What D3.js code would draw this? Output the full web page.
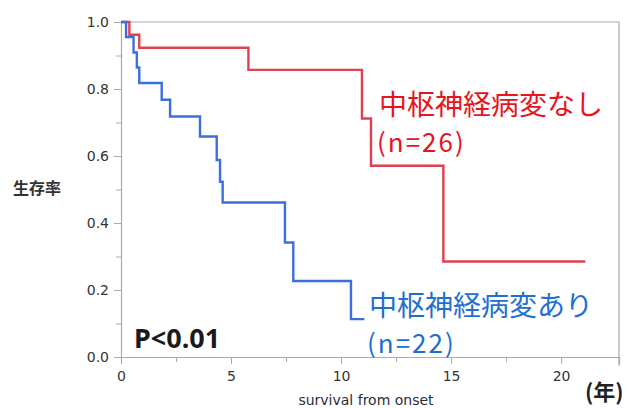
<!DOCTYPE html>
<html>
<head>
<meta charset="utf-8">
<script src="https://cdn.jsdelivr.net/npm/d3@7"></script>
<style>
  body { margin: 0; background: #fff; }
  svg { display: block; }
</style>
</head>
<body>
<div id="chart"></div>
<script>
// Kaplan-Meier steps: [time (years), survival]
const redSteps = [
    [0, 1.0], [0.38, 0.962], [0.83, 0.923], [5.79, 0.857],
    [10.95, 0.712], [11.36, 0.571], [14.65, 0.285], [21.1, 0.285]
];
const blueSteps = [
    [0, 1.0], [0.23, 0.955], [0.57, 0.909], [0.72, 0.864], [0.83, 0.818],
    [1.85, 0.768], [2.23, 0.718], [3.59, 0.658], [4.35, 0.588],
    [4.5, 0.523], [4.62, 0.461], [7.45, 0.342], [7.83, 0.227],
    [10.45, 0.113], [11.06, 0.113]
];
const xTicks = [0, 5, 10, 15, 20];
const yTicks = [0, 0.2, 0.4, 0.6, 0.8, 1.0];
const redLabel = ["中枢神経病変なし", "(n=26)"];
const blueLabel = ["中枢神経病変あり", "(n=22)"];

const width = 643, height = 408;
const plotLeft = 121, plotRight = 619, plotTop = 22, plotBottom = 357;

let svg = d3.select("#chart").append("svg")
    .attr("width", width).attr("height", height);

let x = d3.scaleLinear().domain([0, 22.63]).range([plotLeft, plotRight]);
let y = d3.scaleLinear().domain([0, 1]).range([plotBottom, plotTop]);

// frame (top and right)
svg.append("path")
    .attr("d", `M${plotLeft},${plotTop}H${plotRight}V${plotBottom + 9}`)
    .attr("fill", "none").attr("stroke", "#aaa").attr("stroke-width", 1.2);

// Y axis with minor ticks
svg.append("g").attr("transform", `translate(${plotLeft},0)`)
    .call(d3.axisLeft(y).tickValues(yTicks).tickFormat(d3.format(".1f")).tickSize(7).tickPadding(5));
svg.append("g").attr("transform", `translate(${plotLeft},0)`)
    .call(d3.axisLeft(y).tickValues(d3.range(0.1, 1, 0.2)).tickFormat("").tickSize(5))
    .select(".domain").remove();

// X axis with minor ticks
svg.append("g").attr("transform", `translate(0,${plotBottom})`)
    .call(d3.axisBottom(x).tickValues(xTicks).tickSize(7).tickPadding(7));
svg.append("g").attr("transform", `translate(0,${plotBottom})`)
    .call(d3.axisBottom(x).tickValues([2.5, 7.5, 12.5, 17.5]).tickFormat("").tickSize(5))
    .select(".domain").remove();

svg.selectAll(".domain").attr("stroke", "#aaa").attr("stroke-width", 1.2);
svg.selectAll(".tick line").attr("stroke", "#aaa");
svg.selectAll(".tick text")
    .attr("font-family", "DejaVu Sans").attr("font-size", 14).attr("fill", "#333");

// survival curves
let line = d3.line().x(d => x(d[0])).y(d => y(d[1])).curve(d3.curveStepAfter);

svg.append("path").datum(redSteps)
    .attr("d", line).attr("fill", "none")
    .attr("stroke", "#e0404f").attr("stroke-width", 2.4);
svg.append("path").datum(blueSteps)
    .attr("d", line).attr("fill", "none")
    .attr("stroke", "#3b6fe0").attr("stroke-width", 2.4);

// group labels
let cjk = "'Noto Sans CJK JP', 'Noto Sans', sans-serif";
svg.append("text").attr("x", 379).attr("y", 115).text(redLabel[0])
    .attr("font-family", cjk).attr("font-size", 28).attr("fill", "#e8141c");
svg.append("text").attr("x", 377).attr("y", 152).text(redLabel[1])
    .attr("font-family", cjk).attr("font-size", 26).attr("letter-spacing", 2)
    .attr("fill", "#e8141c");
svg.append("text").attr("x", 369).attr("y", 316).text(blueLabel[0])
    .attr("font-family", cjk).attr("font-size", 28).attr("fill", "#1f6fd0");
svg.append("text").attr("x", 367).attr("y", 353).text(blueLabel[1])
    .attr("font-family", cjk).attr("font-size", 26).attr("letter-spacing", 2)
    .attr("fill", "#1f6fd0");

// p value
svg.append("text").attr("x", 134).attr("y", 348).text("P<0.01")
    .attr("font-family", "'Noto Sans', sans-serif").attr("font-weight", "bold")
    .attr("font-size", 27).attr("fill", "#1a1a1a");

// axis titles
svg.append("text").attr("x", 37).attr("y", 194).attr("text-anchor", "middle").text("生存率")
    .attr("font-family", cjk).attr("font-weight", "bold")
    .attr("font-size", 16).attr("fill", "#333");
svg.append("text").attr("x", 366).attr("y", 405).attr("text-anchor", "middle").text("survival from onset")
    .attr("font-family", "DejaVu Sans").attr("font-size", 14).attr("fill", "#2b2b40");
svg.append("text").attr("x", 585).attr("y", 400).text("(年)")
    .attr("font-family", cjk).attr("font-weight", "bold")
    .attr("font-size", 22).attr("fill", "#222");
</script>
</body>
</html>
